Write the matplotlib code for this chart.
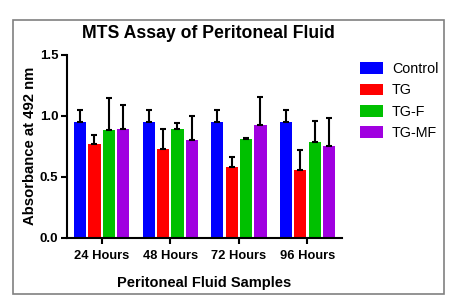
import matplotlib
matplotlib.use("Agg")
import matplotlib.pyplot as plt
from matplotlib.patches import Rectangle, Patch
import numpy as np

plt.rcParams['font.family'] = ['Liberation Sans', 'DejaVu Sans']
plt.rcParams['font.weight'] = 'bold'

categories = ["24 Hours", "48 Hours", "72 Hours", "96 Hours"]
series_names = ["Control", "TG", "TG-F", "TG-MF"]
control = [0.948, 0.948, 0.946, 0.948]
tg = [0.77, 0.727, 0.58, 0.555]
tgf = [0.885, 0.893, 0.807, 0.787]
tgmf = [0.893, 0.798, 0.924, 0.752]
control_err = [0.097, 0.097, 0.099, 0.097]
tg_err = [0.07, 0.166, 0.084, 0.166]
tgf_err = [0.262, 0.047, 0.008, 0.167]
tgmf_err = [0.197, 0.202, 0.227, 0.232]
colors = ["#0000ff", "#ff0000", "#00c000", "#a000e0"]

values = [control, tg, tgf, tgmf]
errors = [control_err, tg_err, tgf_err, tgmf_err]

fig = plt.figure(figsize=(4.6, 3.07), dpi=100)
ax = fig.add_axes([0.145, 0.2257, 0.598, 0.5953])

x = np.arange(len(categories))
offsets = [-0.315, -0.105, 0.105, 0.315]
width = 0.18
for vals, errs, col, off, name in zip(values, errors, colors, offsets, series_names):
    ax.bar(x + off, vals, width=width, color=col, edgecolor='none', label=name, zorder=2)
    ax.errorbar(x + off, vals, yerr=[np.zeros(len(vals)), errs], fmt='none',
                ecolor='black', elinewidth=1.5, capsize=2.5, capthick=1.5, zorder=3)

ax.set_xlim(-0.51, 3.5)
ax.set_ylim(0, 1.5)
ax.set_yticks([0.0, 0.5, 1.0, 1.5])
ax.set_yticklabels(["0.0", "0.5", "1.0", "1.5"], fontsize=9.5, fontweight='bold')
ax.set_xticks(x)
ax.set_xticklabels(categories, fontsize=9.3, fontweight='bold')
for s in ['top', 'right']:
    ax.spines[s].set_visible(False)
for s in ['left', 'bottom']:
    ax.spines[s].set_linewidth(1.5)
ax.tick_params(axis='both', direction='out', width=1.5, length=4)
ax.tick_params(axis='y', pad=2)
ax.tick_params(axis='x', pad=5)

ax.set_ylabel("Absorbance at 492 nm", fontsize=10.7, fontweight='bold', labelpad=2)
ax.set_xlabel("Peritoneal Fluid Samples", fontsize=10.5, fontweight='bold', labelpad=10)
fig.text(0.454, 0.892, "MTS Assay of Peritoneal Fluid", ha='center', va='center',
         fontsize=12.7, fontweight='bold')

handles = [Patch(facecolor=c, edgecolor='none', label=n) for c, n in zip(colors, series_names)]
fig.legend(handles=handles, loc='upper left', bbox_to_anchor=(0.765, 0.825),
           frameon=False, handlelength=1.6, handleheight=0.9,
           labelspacing=0.5, handletextpad=0.6, borderaxespad=0.2,
           prop={'weight': 'normal', 'size': 10.3})

fig.patches.append(Rectangle((13/460, 1-294/307), (444-13)/460, (294-20)/307,
                             transform=fig.transFigure, fill=False,
                             edgecolor='#808080', linewidth=1.2))

fig.savefig("out.png", dpi=100)
